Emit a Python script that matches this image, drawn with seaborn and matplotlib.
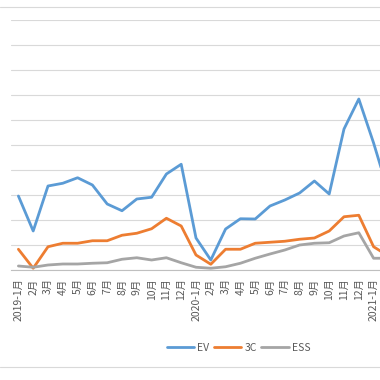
import matplotlib
matplotlib.use("Agg")
import matplotlib.pyplot as plt
from matplotlib.lines import Line2D
import seaborn as sns
import pandas as pd
import numpy as np

# ---- data ----
months = ["2019-1月", "2月", "3月", "4月", "5月", "6月", "7月", "8月", "9月", "10月", "11月", "12月",
          "2020-1月", "2月", "3月", "4月", "5月", "6月", "7月", "8月", "9月", "10月", "11月", "12月",
          "2021-1月", "2月"]
ev = [29.6, 15.6, 33.6, 34.7, 36.9, 34.0, 26.4, 23.7, 28.4, 29.1, 38.4, 42.3,
      12.8, 4.0, 16.4, 20.5, 20.4, 25.6, 28.0, 30.8, 35.6, 30.4, 56.4, 68.4,
      50.8, 31.2]
c3 = [8.3, 0.7, 9.3, 10.7, 10.7, 11.7, 11.7, 13.9, 14.7, 16.5, 20.7, 17.6,
      6.0, 2.3, 8.3, 8.3, 10.7, 11.1, 11.5, 12.3, 12.8, 15.6, 21.3, 21.9,
      9.3, 5.6]
ess = [1.6, 1.1, 2.0, 2.4, 2.4, 2.7, 2.9, 4.3, 4.9, 4.0, 4.9, 2.9,
       1.1, 0.7, 1.3, 2.7, 4.7, 6.4, 8.0, 10.0, 10.7, 10.9, 13.6, 14.9,
       4.7, 4.7]
series_names = ["EV", "3C", "ESS"]
yticks = list(range(0, 101, 10))

colors = {"EV": "#5B9BD5", "3C": "#ED7D31", "ESS": "#A5A5A5"}

df = pd.concat([
    pd.DataFrame({"idx": np.arange(len(months)), "value": vals, "series": name})
    for name, vals in zip(series_names, [ev, c3, ess])
])

sns.set_style("white")
plt.rcParams["font.family"] = ["Noto Sans CJK SC", "DejaVu Sans"]

W = H = 380
fig = plt.figure(figsize=(3.8, 3.8), dpi=100)
step = 14.8
left_px = 11
ax = fig.add_axes([left_px / W, (H - 270) / H, (len(months) * step) / W, 250 / H])

sns.lineplot(data=df, x="idx", y="value", hue="series", palette=colors,
             hue_order=series_names, linewidth=2.0, ax=ax, legend=True)
for ln in ax.get_lines():
    ln.set_solid_joinstyle("round")
    ln.set_solid_capstyle("round")

ax.set_xlim(-0.5, len(months) - 0.5)
ax.set_ylim(0, 100)
ax.set_yticks(yticks)
ax.set_yticklabels([str(v) for v in yticks])
ax.set_xticks(range(len(months)))
ax.set_xticklabels(months, rotation=90)
ax.tick_params(axis="x", length=0, pad=6, labelsize=7.5, colors="#595959")
ax.tick_params(axis="y", length=0, pad=8.3, labelsize=7.5, colors="#595959")
ax.set_xlabel("")
ax.set_ylabel("")
ax.yaxis.grid(True, color="#D9D9D9", linewidth=0.8)
ax.set_axisbelow(True)
for s in ["top", "right", "left"]:
    ax.spines[s].set_visible(False)
ax.spines["bottom"].set_color("#BFBFBF")
ax.spines["bottom"].set_linewidth(0.8)

handles, labels = ax.get_legend_handles_labels()
ax.get_legend().remove()
fig.legend(handles, labels, loc="center", bbox_to_anchor=(238.5 / W, 1 - 348 / H),
           ncol=3, frameon=False, fontsize=7.5, handlelength=2.65,
           handletextpad=0.3, columnspacing=0.4, labelcolor="#595959")

# chart border lines (top/bottom of the cropped chart frame)
for yp in [6.7, 367]:
    fig.add_artist(Line2D([0, 1], [1 - yp / H, 1 - yp / H], transform=fig.transFigure,
                          color="#D9D9D9", linewidth=0.8))

fig.savefig("out.png", dpi=100)
